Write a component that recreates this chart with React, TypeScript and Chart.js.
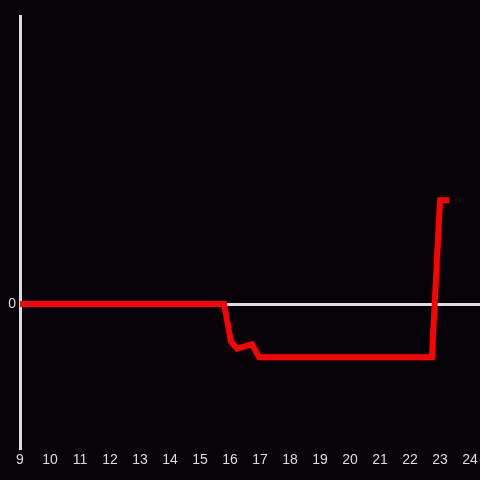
import React, { useEffect, useRef } from "react";
import { Chart, registerables } from "chart.js";

Chart.register(...registerables);

const xValues = [9, 15.8, 16.03, 16.23, 16.73, 16.97, 22.73, 23.0, 23.3];
const yValues = [0, 0, -0.26, -0.31, -0.28, -0.37, -0.37, 0.72, 0.72];
const xTicks = [9, 10, 11, 12, 13, 14, 15, 16, 17, 18, 19, 20, 21, 22, 23, 24];
const yTicks = [0];

const BG = "#050307";
const AXIS = "#dddddd";

export default function App() {
  const ref = useRef<HTMLCanvasElement>(null);
  useEffect(() => {
    document.body.style.margin = "0";
    const ctx = ref.current!;
    const bgPlugin = {
      id: "bg",
      beforeDraw(chart: any) {
        const c = chart.ctx;
        c.save();
        c.fillStyle = BG;
        c.fillRect(0, 0, chart.width, chart.height);
        c.restore();
      },
    };
    const chart = new Chart(ctx, {
      type: "line",
      data: {
        datasets: [
          {
            data: xValues.map((x, i) => ({ x, y: yValues[i] })),
            borderColor: "#ff0000",
            borderWidth: 6,
            pointRadius: 0,
            tension: 0,
            borderJoinStyle: "miter",
            borderCapStyle: "butt",
            fill: false,
          },
        ],
      },
      options: {
        animation: false,
        responsive: false,
        maintainAspectRatio: false,
        layout: { padding: { top: 16, left: 0, right: 0, bottom: 0 } },
        plugins: { legend: { display: false }, tooltip: { enabled: false } },
        scales: {
          x: {
            type: "linear",
            min: 9,
            max: 24.333,
            afterBuildTicks: (scale: any) => {
              scale.ticks = xTicks.map((v) => ({ value: v }));
            },
            afterFit: (scale: any) => {
              scale.height = 32;
              scale.paddingLeft = 0;
              scale.paddingRight = 0;
            },
            grid: { display: false, drawTicks: false },
            border: { display: false },
            ticks: {
              color: AXIS,
              padding: 4,
              maxRotation: 0,
              autoSkip: false,
              font: { size: 14, family: "'Liberation Sans', Arial, sans-serif" },
            },
          },
          y: {
            type: "linear",
            min: -1,
            max: 2,
            afterBuildTicks: (scale: any) => {
              scale.ticks = yTicks.map((v) => ({ value: v }));
            },
            afterFit: (scale: any) => {
              scale.width = 20;
            },
            grid: {
              drawTicks: false,
              color: AXIS,
              lineWidth: 3,
            },
            border: { display: true, color: AXIS, width: 3 },
            ticks: {
              color: AXIS,
              padding: 4,
              font: { size: 14, family: "'Liberation Sans', Arial, sans-serif" },
            },
          },
        },
      },
      plugins: [bgPlugin],
    } as any);
    return () => chart.destroy();
  }, []);
  return (
    <div style={{ position: "fixed", left: 0, top: 0, width: 480, height: 480, background: BG }}>
      <canvas ref={ref} width={480} height={480} style={{ display: "block" }} />
    </div>
  );
}
